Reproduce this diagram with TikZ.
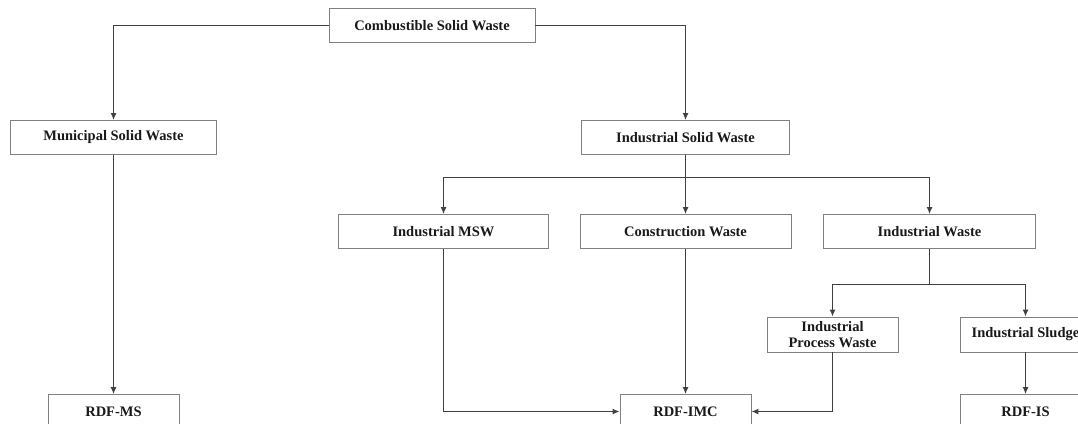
\documentclass[tikz,border=0pt]{standalone}
\usepackage{fontspec}
\setmainfont{Liberation Serif}
\usetikzlibrary{arrows.meta}
\begin{document}
\begin{tikzpicture}[x=1pt,y=-1pt,
  box/.style={draw=black!50, line width=0.9pt, fill=white, inner sep=0pt, minimum height=34pt,
    font=\bfseries\fontsize{14.5}{16}\selectfont, align=center, text=black!90},
  conn/.style={draw=black!75, line width=1.2pt, -{Latex[length=7pt,width=6pt]}},
  plain/.style={draw=black!75, line width=1.2pt}]
\useasboundingbox (0,0) rectangle (1078,423);
\clip (0,0) rectangle (1078,423);
% nodes
\node[box, minimum width=206pt] (cs) at (432,25.5) {Combustible Solid Waste};
\node[box, minimum width=206pt] (msw) at (113.5,137.5) {Municipal Solid Waste};
\node[box, minimum width=208pt] (isw) at (685.5,137.5) {Industrial Solid Waste};
\node[box, minimum width=210pt] (imsw) at (443.5,231.5) {Industrial MSW};
\node[box, minimum width=211pt] (cw) at (685.5,231.5) {Construction Waste};
\node[box, minimum width=212pt] (iw) at (929.5,231.5) {Industrial Waste};
\node[box, minimum width=131pt, minimum height=35pt] (ipw) at (832.5,334.5) {Industrial\\Process Waste};
\node[box, minimum width=130pt, minimum height=35pt] (isl) at (1025.5,334.5) {Industrial Sludge};
\node[box, minimum width=131pt] (rdfms) at (113.5,411.5) {RDF-MS};
\node[box, minimum width=131pt] (rdfimc) at (685.5,411.5) {RDF-IMC};
\node[box, minimum width=130pt] (rdfis) at (1025.5,411.5) {RDF-IS};
\coordinate (bus1) at (685.5,177.5);
\coordinate (bus2) at (929.5,284.5);
% connectors
\draw[conn] (cs.west) -| (msw.north);
\draw[conn] (cs.east) -| (isw.north);
\draw[conn] (msw.south) -- (rdfms.north);
\draw[conn] (isw.south) -- (cw.north);
\draw[conn] (bus1) -| (imsw.north);
\draw[conn] (bus1) -| (iw.north);
\draw[plain] (iw.south) -- (bus2);
\draw[conn] (bus2) -| (ipw.north);
\draw[conn] (bus2) -| (isl.north);
\draw[conn] (imsw.south) |- (rdfimc.west);
\draw[conn] (cw.south) -- (rdfimc.north);
\draw[conn] (ipw.south) |- (rdfimc.east);
\draw[conn] (isl.south) -- (rdfis.north);
\end{tikzpicture}
\end{document}
